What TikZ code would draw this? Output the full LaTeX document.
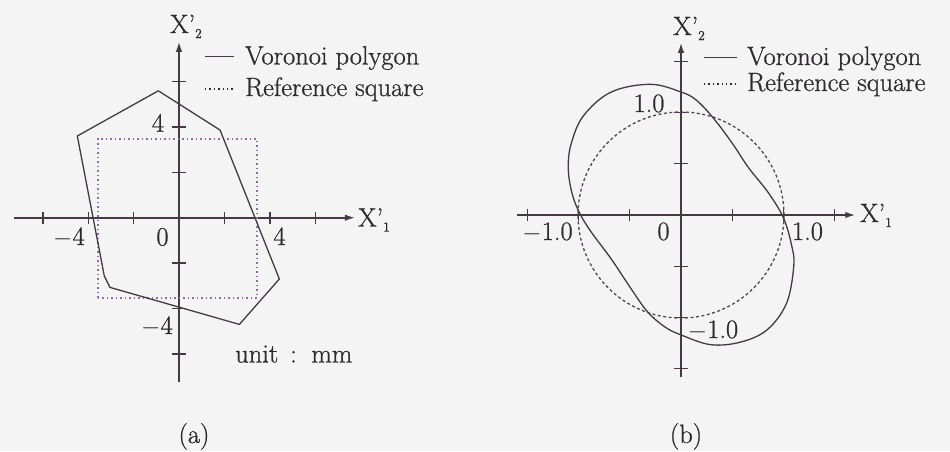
\documentclass[tikz,border=0pt]{standalone}
\usepackage{fontspec}
\setmainfont{Latin Modern Roman}[FakeBold=0.8]
\usetikzlibrary{arrows.meta}
\definecolor{ink}{HTML}{2E2A2E}
\definecolor{linec}{HTML}{453A43}
\definecolor{sqc}{HTML}{8E6E9E}
\definecolor{circc}{HTML}{55465A}
\definecolor{bgc}{HTML}{F4F4F4}
\newcommand{\subnum}[1]{\raisebox{-5pt}{\fontsize{13.5}{15}\selectfont #1}}
\begin{document}
\begin{tikzpicture}[x=1pt,y=-1pt,
  lbl/.style={font=\fontsize{26.5}{30}\selectfont, text=ink, inner sep=0pt},
  axisline/.style={draw=linec, line width=1.6pt, -{Latex[length=10pt,width=6.5pt]}},
  tickln/.style={draw=linec, line width=1.4pt},
  curveln/.style={draw=linec, line width=1.3pt, line join=round},
  refsq/.style={draw=sqc, line width=1.5pt, dash pattern=on 1.5pt off 3pt},
  refcirc/.style={draw=circc, line width=1.3pt, dash pattern=on 3pt off 2.5pt}]
\fill[bgc] (0,0) rectangle (950,451);
\useasboundingbox (0,0) rectangle (950,451);

% ---------------- panel (a) ----------------
\begin{scope}[shift={(179pt,-217.7pt)}, x=22.7pt, y=22.7pt]
  \coordinate (aL) at (-7.27,0);
  \coordinate (aR) at (7.75,0);
  \coordinate (aB) at (0,-7.22);
  \coordinate (aT) at (0,7.75);
  \draw[axisline] (aL) -- (aR);
  \draw[axisline] (aB) -- (aT);
  \foreach \t in {-6,-4,-2,2,4,6} {
    \draw[tickln] (\t,-0.27) -- (\t,0.27);
    \draw[tickln] (-0.29,\t) -- (0.29,\t);
  }
  \draw[refsq] (-3.56,-3.53) rectangle (3.44,3.47);
  \draw[curveln] (-0.91,5.59) -- (1.81,3.86) -- (4.42,-2.70) -- (2.66,-4.70)
     -- (-3.04,-3.07) -- (-3.29,-2.57) -- (-4.48,3.60) -- cycle;
\end{scope}

\node[lbl, anchor=base west] (ax2) at (170,33) {X'\subnum{2}};
\node[lbl, anchor=base west] (ax1) at (358,226.5) {X'\subnum{1}};
\node[lbl, anchor=base] (axm4) at (69,245) {$-$4};
\node[lbl, anchor=base] (ax0) at (162.5,245.5) {0};
\node[lbl, anchor=base] (ax4) at (279.5,245) {4};
\node[lbl, anchor=base] (ay4) at (158,131.7) {4};
\node[lbl, anchor=base] (aym4) at (157,334) {$-$4};
\node[lbl, anchor=base west] (aunit) at (235,362.5) {unit\hspace{0.45em}:\hspace{0.55em}mm};

\coordinate (alegA1) at (205,56.5);
\coordinate (alegA2) at (234,56.5);
\coordinate (alegB1) at (205,89);
\coordinate (alegB2) at (234,89);
\draw[curveln] (alegA1) -- (alegA2);
\draw[draw=ink, line width=1.4pt, dash pattern=on 1.4pt off 3pt] (alegB1) -- (alegB2);
\node[lbl, anchor=base west] (alegvt) at (245,64.5) {Voronoi polygon};
\node[lbl, anchor=base west] (alegrt) at (245,96) {Reference square};

\node[lbl, anchor=base] (capa) at (194,443) {(a)};

% ---------------- panel (b) ----------------
\begin{scope}[shift={(681pt,-215pt)}, x=102.5pt, y=102.5pt]
  \coordinate (bL) at (-1.60,0);
  \coordinate (bR) at (1.70,0);
  \coordinate (bB) at (0,-1.58);
  \coordinate (bT) at (0,1.68);
  \draw[axisline] (bL) -- (bR);
  \draw[axisline] (bB) -- (bT);
  \foreach \t in {-1.5,-1,-0.5,0.5,1,1.5} {
    \draw[tickln] (\t,-0.06) -- (\t,0.06);
    \draw[tickln] (-0.065,\t) -- (0.065,\t);
  }
  \draw[refcirc] (0,0) circle[radius=1.005];
  \draw[curveln] plot[smooth cycle, tension=0.6] coordinates {
    (0.15,1.12) (0,1.20) (-0.30,1.275) (-0.68,1.20) (-0.95,0.97) (-1.07,0.70)
    (-1.10,0.47) (-1.07,0.24) (-1.00,0.04) (-0.88,-0.16) (-0.68,-0.43)
    (-0.50,-0.70) (-0.33,-0.94) (-0.16,-1.09) (0,-1.17) (0.29,-1.265)
    (0.58,-1.24) (0.84,-1.12) (1.03,-0.86) (1.10,-0.50) (1.08,-0.30)
    (1.00,-0.03) (0.85,0.22) (0.66,0.46) (0.50,0.70) (0.32,0.94)};
\end{scope}

\node[lbl, anchor=base west] (bx2) at (673,35) {X'\subnum{2}};
\node[lbl, anchor=base west] (bx1) at (860,222) {X'\subnum{1}};
\node[lbl, anchor=base] (bxm1) at (547.5,240) {$-$1.0};
\node[lbl, anchor=base] (bx0) at (663.5,240) {0};
\node[lbl, anchor=base] (bx1v) at (807.5,240) {1.0};
\node[lbl, anchor=base] (by1) at (649,112) {1.0};
\node[lbl, anchor=base] (bym1) at (713,338) {$-$1.0};

\coordinate (blegA1) at (704,57.5);
\coordinate (blegA2) at (737,57.5);
\coordinate (blegB1) at (704,84);
\coordinate (blegB2) at (737,84);
\draw[curveln] (blegA1) -- (blegA2);
\draw[draw=ink, line width=1.4pt, dash pattern=on 1.4pt off 3pt] (blegB1) -- (blegB2);
\node[lbl, anchor=base west] (blegvt) at (747,65) {Voronoi polygon};
\node[lbl, anchor=base west] (blegrt) at (747,91) {Reference square};

\node[lbl, anchor=base] (capb) at (686,443) {(b)};
\end{tikzpicture}
\end{document}
